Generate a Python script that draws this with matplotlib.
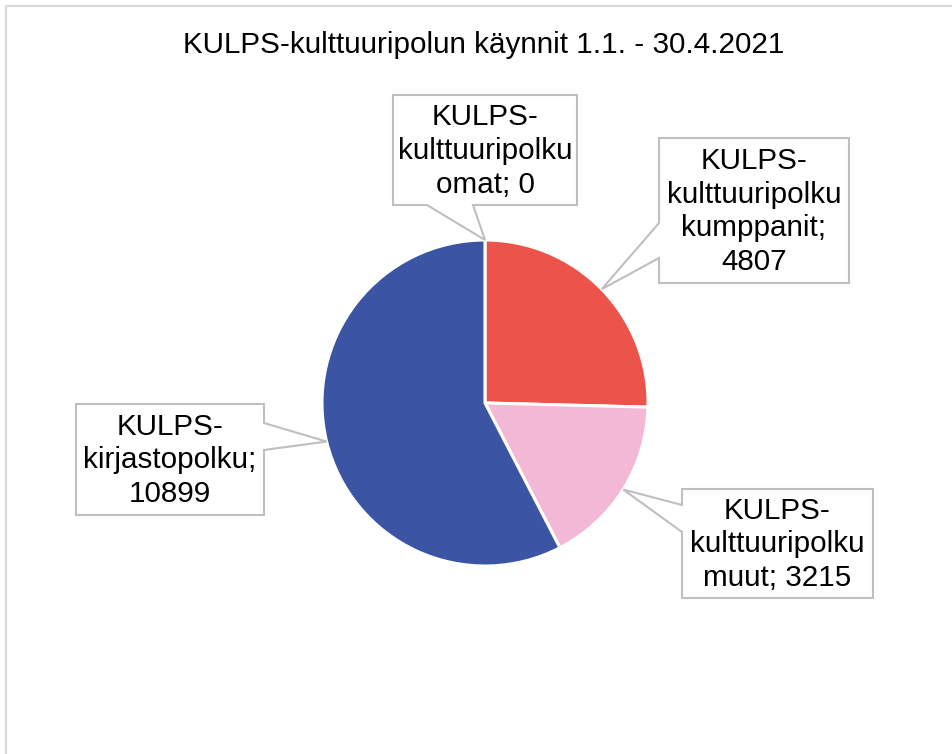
import numpy as np
import matplotlib
matplotlib.use("Agg")
import matplotlib.pyplot as plt
from matplotlib.patches import Polygon, Rectangle

# ---- data ----
title = "KULPS-kulttuuripolun käynnit 1.1. - 30.4.2021"
categories = ["KULPS-kulttuuripolku omat",
              "KULPS-kulttuuripolku kumppanit",
              "KULPS-kulttuuripolku muut",
              "KULPS-kirjastopolku"]
values = [0, 4807, 3215, 10899]
label_texts = ["KULPS-\nkulttuuripolku\nomat; 0",
               "KULPS-\nkulttuuripolku\nkumppanit;\n4807",
               "KULPS-\nkulttuuripolku\nmuut; 3215",
               "KULPS-\nkirjastopolku;\n10899"]
colors = ["#7FB069", "#EC534A", "#F3B8D6", "#3B55A4"]

W, H = 953, 754
plt.rcParams['font.family'] = ['Liberation Sans', 'DejaVu Sans']

fig = plt.figure(figsize=(W / 100, H / 100), dpi=100)
ax = fig.add_axes([0, 0, 1, 1])

def P(x, y):
    return (x, H - y)

cx, cy = P(485, 403)
R = 163
wedges, _ = ax.pie(values, center=(cx, cy), radius=R, startangle=90,
                   counterclock=False, colors=colors,
                   wedgeprops=dict(edgecolor='white', linewidth=2.2))
ax.set_xlim(0, W)
ax.set_ylim(0, H)
ax.set_aspect('equal')
ax.axis('off')

# outer chart border
ax.add_patch(Rectangle(P(6, 760), W + 10, 754, fill=False,
                       edgecolor="#D9D9D9", linewidth=1.5, zorder=0))

ax.text(*P(484, 45), title, ha='center', va='center', fontsize=21.3, color='#000000')

# callout boxes: (left, top, right, bottom, side, base1, base2)
boxes = [
    (393, 95, 577, 205, 'bottom', 427, 473),
    (659, 138, 849, 283, 'left', 223, 258),
    (682, 489, 873, 598, 'left', 505, 532),
    (76, 404, 264, 515, 'right', 423, 450),
]

for w, txt, (l, t, r, b, side, b1, b2) in zip(wedges, label_texts, boxes):
    mid = np.deg2rad((w.theta1 + w.theta2) / 2)
    tip = (cx + R * np.cos(mid), cy + R * np.sin(mid))
    if side == 'bottom':
        pts = [P(l, t), P(r, t), P(r, b), P(b2, b), tip, P(b1, b), P(l, b)]
    elif side == 'left':
        pts = [P(l, t), P(r, t), P(r, b), P(l, b), P(l, b2), tip, P(l, b1)]
    else:
        pts = [P(l, t), P(r, t), P(r, b1), tip, P(r, b2), P(r, b), P(l, b)]
    ax.add_patch(Polygon(pts, closed=True, facecolor='white',
                         edgecolor='#BFBFBF', linewidth=1.5, zorder=5))
    ax.text(*P((l + r) / 2, (t + b) / 2 + 1), txt, ha='center', va='center',
            fontsize=21.3, linespacing=1.27, color='#000000', zorder=6)

fig.savefig("out.png", dpi=100)
